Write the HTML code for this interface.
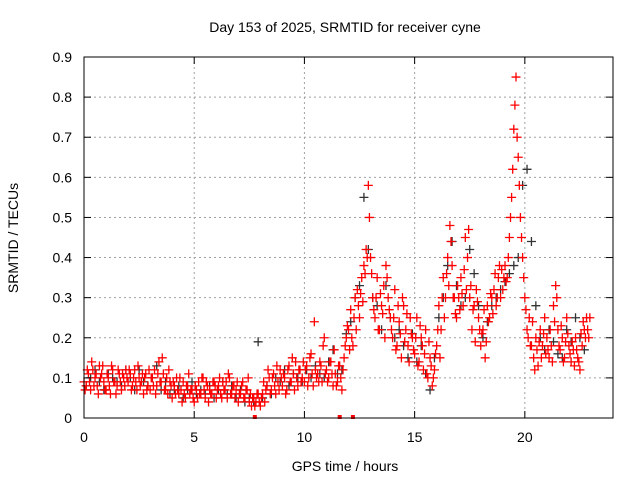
<!DOCTYPE html>
<html><head><meta charset="utf-8">
<style>
body{margin:0;background:#fff;}
svg{display:block;font-family:"Liberation Sans",sans-serif;}
</style></head>
<body>
<svg id="chart" width="640" height="480">
<text x="345" y="32" font-size="14" text-anchor="middle" fill="#000">Day 153 of 2025, SRMTID for receiver cyne</text>
<text x="345" y="471" font-size="14" text-anchor="middle">GPS time / hours</text>
<text transform="translate(18,238) rotate(-90)" font-size="14" text-anchor="middle">SRMTID / TECUs</text>
<g id="grid"></g>
<g id="marks"></g>
<g id="axes"></g>
</svg>
<script>
const xTicks=[0,5,10,15,20];
const yTicks=[0,0.1,0.2,0.3,0.4,0.5,0.6,0.7,0.8,0.9];
const yTickLabels=["0","0.1","0.2","0.3","0.4","0.5","0.6","0.7","0.8","0.9"];
const seriesStartHour=0;
const redStepHours=0.1;
const redA=[.09,.08,.11,.07,.12,.10,.08,.13,.11,.09,
.07,.10,.06,.12,.09,.08,.11,.07,.10,.12,
.09,.11,.08,.12,.07,.10,.09,.06,.11,.08,
.07,.10,.12,.08,.14,.09,.11,.07,.06,.09,
.05,.08,.10,.06,.07,.09,.05,.08,.06,.07,
.04,.07,.09,.06,.10,.05,.08,.07,.06,.09,
.05,.08,.06,.09,.07,.05,.10,.06,.08,.07,
.04,.06,.09,.05,.07,.04,.03,.05,.04,.06,
.03,.06,.04,.08,.10,.07,.11,.06,.09,.12,
.08,.10,.07,.13,.09,.11,.14,.08,.12,.10,
.09,.13,.10,.16,.08,.12,.11,.14,.09,.20,
.12,.10,.14,.08,.11,.09,.13,.07,.15,.20,
.22,.27,.18,.30,.32,.25,.35,.38,.42,.58,
.40,.30,.25,.35,.22,.28,.33,.38,.30,.25,
.20,.32,.18,.24,.15,.28,.22,.18,.25,.20,
.16,.25,.14,.20,.12,.22,.10,.15,.08,.12,
.18,.28,.22,.35,.30,.40,.48,.38,.30,.25,
.30,.35,.28,.45,.40,.30,.22,.28,.32,.25,
.18,.22,.15,.28,.25,.30,.32,.28,.35,.30,
.32,.38,.35,.45,.55,.72,.85,.65,.50,.40,
.30,.22,.25,.18,.15,.20,.13,.22,.18,.25,
.20,.15,.18,.28,.33,.22,.17,.20,.15,.25,
.18,.14,.17,.20,.15,.12,.18,.22,.25,.20];
const redB=[.07,.12,.09,.14,.08,.11,.06,.10,.13,.07,
.11,.08,.13,.09,.06,.12,.09,.11,.08,.10,
.12,.07,.10,.09,.13,.08,.11,.10,.07,.12,
.10,.08,.06,.11,.09,.15,.07,.10,.12,.08,
.09,.06,.07,.10,.04,.06,.08,.11,.07,.05,
.08,.05,.06,.10,.07,.09,.04,.06,.09,.08,
.07,.10,.05,.07,.09,.11,.06,.08,.05,.09,
.06,.08,.05,.07,.10,.06,.05,.03,.06,.04,
.05,.09,.07,.12,.06,.10,.08,.13,.07,.10,
.11,.06,.12,.09,.15,.07,.10,.12,.09,.14,
.12,.08,.15,.11,.24,.10,.09,.13,.18,.11,
.09,.14,.11,.17,.08,.13,.10,.12,.18,.23,
.17,.20,.25,.22,.28,.31,.29,.36,.40,.50,
.36,.27,.30,.22,.31,.26,.20,.35,.27,.22,
.25,.17,.28,.21,.30,.19,.26,.14,.21,.17,
.20,.13,.23,.18,.16,.11,.19,.13,.10,.16,
.22,.15,.30,.25,.36,.33,.44,.30,.26,.33,
.27,.31,.37,.32,.47,.33,.27,.19,.29,.22,
.21,.27,.19,.24,.31,.26,.36,.30,.38,.37,
.35,.34,.40,.50,.62,.78,.70,.58,.45,.35,
.27,.20,.18,.24,.12,.17,.19,.15,.21,.16,
.17,.22,.14,.24,.30,.18,.23,.14,.19,.21,
.16,.19,.13,.17,.14,.21,.24,.20,.22,.25];
const blackStepHours=0.2;
const black=[.08,.10,.12,.09,.07,.11,.10,.09,.08,.12,
.10,.07,.12,.09,.08,.10,.13,.07,.09,.06,
.07,.08,.05,.07,.09,.06,.07,.06,.08,.05,
.07,.09,.06,.08,.05,.07,.04,.05,.04,.19,
.05,.08,.06,.10,.09,.12,.08,.11,.10,.09,
.12,.10,.13,.11,.10,.14,.17,.11,.12,.21,
.24,.30,.33,.55,.42,.30,.28,.22,.33,.25,
.20,.22,.18,.15,.21,.14,.18,.11,.07,.15,
.25,.30,.38,.44,.33,.28,.30,.42,.36,.28,
.20,.24,.28,.30,.32,.34,.36,.38,.40,.58,
.62,.44,.28,.20,.17,.22,.19,.16,.15,.22,
.19,.25,.20,.17];
const dashHours=[7.75,11.6,12.2];

const NS="http://www.w3.org/2000/svg";
const L=84,R=613,T=57,B=418,XMAX=24,YMAX=0.9;
const xs=h=>L+(h/XMAX)*(R-L);
const ys=v=>B-(v/YMAX)*(B-T);
function mk(tag,attrs,parent){const e=document.createElementNS(NS,tag);for(const k in attrs)e.setAttribute(k,attrs[k]);parent.appendChild(e);return e;}
const grid=document.getElementById('grid'),marks=document.getElementById('marks'),axes=document.getElementById('axes');
xTicks.forEach(t=>{
 if(t>0){const g=mk('line',{x1:xs(t),x2:xs(t),y1:T,y2:B,stroke:'#a0a0a0','stroke-dasharray':'2,3'},grid);
 
 }
 const lb=mk('text',{x:xs(t),y:B+24,'font-size':14,'text-anchor':'middle'},axes);lb.textContent=t;
 
 
 mk('line',{x1:xs(t),x2:xs(t),y1:B,y2:B-7,stroke:'#000'},axes);
 mk('line',{x1:xs(t),x2:xs(t),y1:T,y2:T+7,stroke:'#000'},axes);
});
yTicks.forEach((t,i)=>{
 if(t>0){const g=mk('line',{x1:L,x2:R,y1:ys(t),y2:ys(t),stroke:'#a0a0a0','stroke-dasharray':'2,3'},grid);
 
 }
 const lb=mk('text',{x:L-12,y:ys(t)+5,'font-size':14,'text-anchor':'end'},axes);lb.textContent=yTickLabels[i];
 
 
 mk('line',{x1:L,x2:L+7,y1:ys(t),y2:ys(t),stroke:'#000'},axes);
 mk('line',{x1:R,x2:R-7,y1:ys(t),y2:ys(t),stroke:'#000'},axes);
});
const frame=mk('rect',{x:L,y:T,width:R-L,height:B-T,fill:'none',stroke:'#000'},axes);


function plus(h,v,color,name){
 const x=xs(h),y=ys(v);
 const p=mk('path',{d:`M${x-4.5},${y}H${x+4.5}M${x},${y-4.5}V${y+4.5}`,stroke:color,'stroke-width':1.3,fill:'none'},marks);
 
 
}
black.forEach((v,i)=>plus(seriesStartHour+i*blackStepHours+0.1,v,'#333','black-point'));
redA.forEach((v,i)=>plus(seriesStartHour+i*redStepHours,v,'#ff0000','red-point'));
redB.forEach((v,i)=>plus(seriesStartHour+i*redStepHours+0.05,v,'#ff0000','red-point'));
dashHours.forEach(h=>{
 const r=mk('rect',{x:xs(h)-2,y:B-3,width:4,height:4,fill:'#ff0000'},marks);
 
 
});
</script>
</body></html>
